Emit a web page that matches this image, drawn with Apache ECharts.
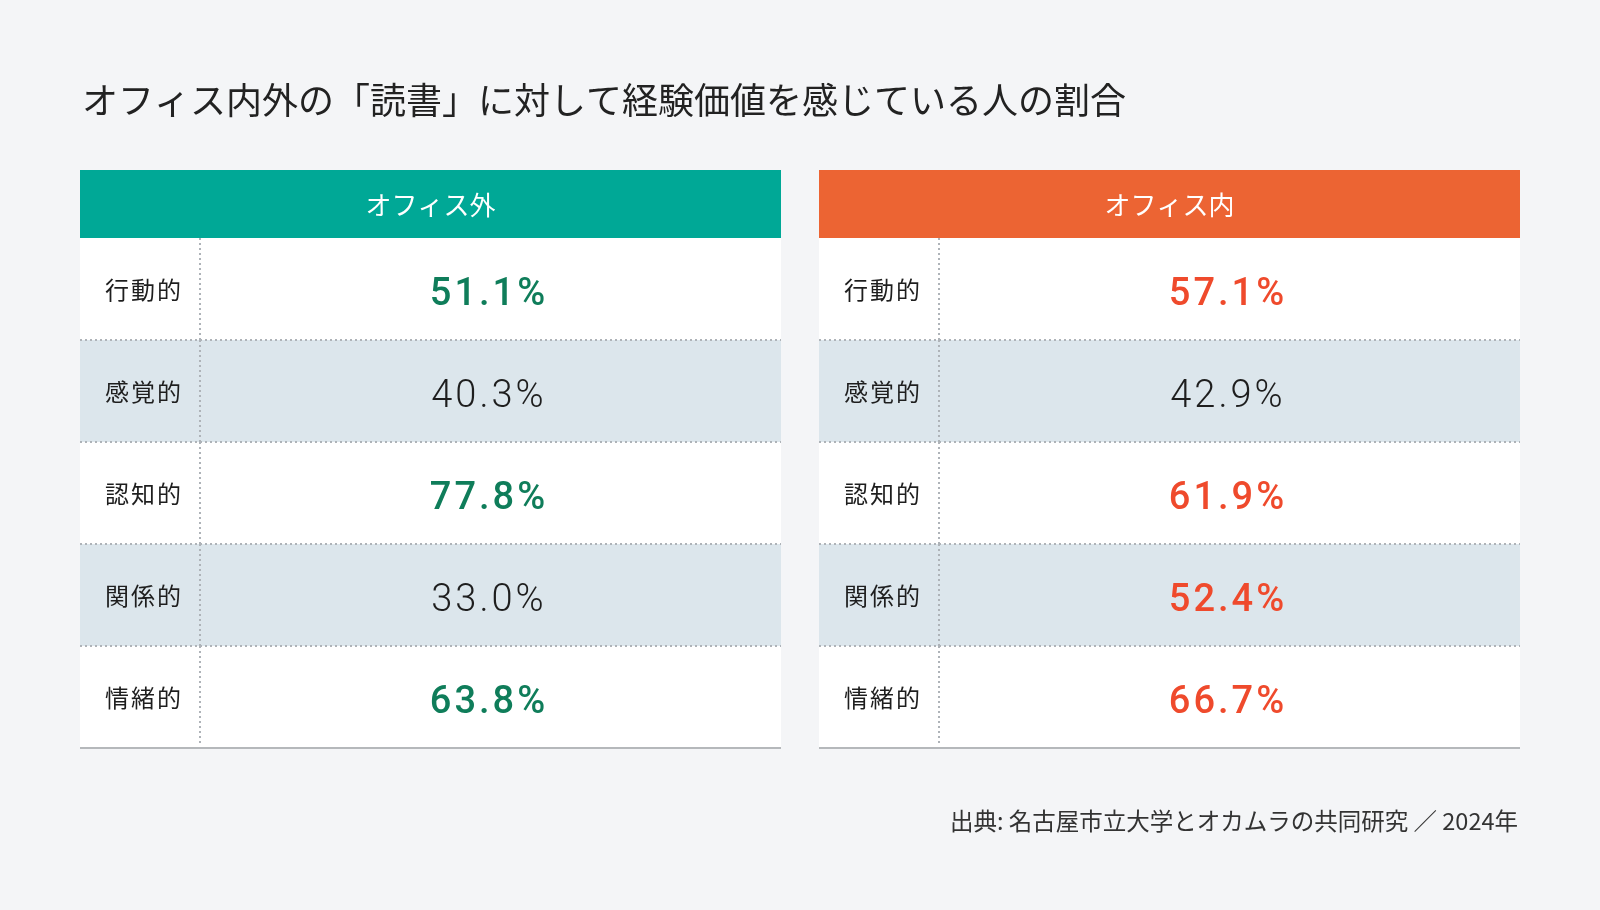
<!DOCTYPE html>
<html>
<head>
<meta charset="utf-8">
<script src="https://cdn.jsdelivr.net/npm/echarts@6/dist/echarts.min.js"></script>
<style>
html,body{margin:0;padding:0;background:#f4f5f7;}
#chart{width:1600px;height:910px;}
</style>
</head>
<body>
<div id="chart"></div>
<script>
// ---- data ----
const titleText = 'オフィス内外の「読書」に対して経験価値を感じている人の割合';
const sourceText = '出典: 名古屋市立大学とオカムラの共同研究 ／ 2024年';
const categories = ['行動的', '感覚的', '認知的', '関係的', '情緒的'];
const groupNames = ['オフィス外', 'オフィス内'];
const outsideValues = [51.1, 40.3, 77.8, 33.0, 63.8];
const insideValues = [57.1, 42.9, 61.9, 52.4, 66.7];
const highlightThreshold = 50;

// ---- styles ----
const headerColors = ['#00a896', '#ec6433'];
const valueColors = ['#0f7d5a', '#ef4a2c'];
const plainColor = '#1e1e1e';
const stripeColor = '#dce6ec';
const dotColor = '#aeb3b8';
const CJK = '"Noto Sans CJK JP", "Noto Sans", sans-serif';
const NUM = 'Roboto, "Noto Sans", sans-serif';
const HEADER_H = 68;
const LABEL_FRAC = 120 / 701;

function spaced(str, style) {
  return str.split('').map(ch => '{' + style + '|' + ch + '}').join('');
}

function makeRender(g) {
  return function (params, api) {
    const idx = api.value(1);
    const val = api.value(2);
    const c0 = api.coord([0, idx]);
    const c1 = api.coord([1, idx]);
    const h = api.size([0, 1])[1];
    const top = c0[1] - h / 2;
    const bottom = top + h;
    const x0 = c0[0], x1 = c1[0];
    const xd = api.coord([LABEL_FRAC, idx])[0];
    const last = idx === categories.length - 1;
    const hi = val > highlightThreshold;
    const children = [
      { type: 'rect', z2: 0, shape: { x: x0, y: top, width: x1 - x0, height: h },
        style: { fill: idx % 2 === 1 ? stripeColor : '#ffffff' } },
      { type: 'line', z2: 10, shape: { x1: xd, y1: top, x2: xd, y2: last ? bottom - 5 : bottom },
        style: { stroke: dotColor, lineWidth: 2, lineDash: [2, 3] } },
      last
        ? { type: 'line', z2: 12, shape: { x1: x0, y1: bottom, x2: x1, y2: bottom },
            style: { stroke: '#b5b8bb', lineWidth: 2 } }
        : { type: 'line', z2: 10, shape: { x1: x0, y1: bottom, x2: x1, y2: bottom },
            style: { stroke: dotColor, lineWidth: 2, lineDash: [2, 3] } },
      { type: 'text', z2: 20, style: { x: x0 + 24, y: c0[1] + 1, text: spaced(categories[idx], 'l'),
          align: 'left', verticalAlign: 'middle',
          rich: { l: { fontFamily: CJK, fontSize: 24, fontWeight: 400, fill: plainColor, padding: [0, 1, 0, 1] } } } },
      { type: 'text', z2: 20, style: { x: (xd + x1) / 2 - 3, y: c0[1] + 6,
          text: spaced(val.toFixed(1) + '%', 'c'),
          align: 'center', verticalAlign: 'middle',
          rich: { c: { fontFamily: NUM, fontSize: 38, fontWeight: hi ? 500 : 300,
                       fill: hi ? valueColors[g] : plainColor, padding: [0, 1.5, 0, 1.5] } } } }
    ];
    if (idx === 0) {
      children.push(
        { type: 'rect', z2: 5, shape: { x: x0, y: top - HEADER_H, width: x1 - x0, height: HEADER_H },
          style: { fill: headerColors[g] } },
        { type: 'text', z2: 20, style: { x: (x0 + x1) / 2, y: top - HEADER_H / 2 + 1, text: groupNames[g],
            align: 'center', verticalAlign: 'middle', fill: '#ffffff', font: '400 26px ' + CJK } }
      );
    }
    return { type: 'group', children: children };
  };
}

const seriesValues = [outsideValues, insideValues];
const chart = echarts.init(document.getElementById('chart'));
chart.setOption({
  backgroundColor: '#f4f5f7',
  animation: false,
  title: [
    { text: titleText, left: 82, top: 80, padding: 0,
      textStyle: { fontFamily: CJK, fontSize: 36, fontWeight: 400, color: '#222', lineHeight: 40 } },
    { text: sourceText, right: 82, top: 809, padding: 0,
      textStyle: { fontFamily: CJK, fontSize: 23.5, fontWeight: 400, color: '#333', lineHeight: 24 } }
  ],
  grid: [
    { left: 80, top: 238, width: 701, height: 510 },
    { left: 819, top: 238, width: 701, height: 510 }
  ],
  xAxis: [0, 1].map(i => ({ type: 'value', gridIndex: i, min: 0, max: 1, show: false })),
  yAxis: [0, 1].map(i => ({ type: 'category', gridIndex: i, data: categories, inverse: true, show: false })),
  series: [0, 1].map(g => ({
    type: 'custom', name: groupNames[g], xAxisIndex: g, yAxisIndex: g,
    renderItem: makeRender(g),
    data: categories.map((c, i) => [0, i, seriesValues[g][i]])
  }))
});
</script>
</body>
</html>
